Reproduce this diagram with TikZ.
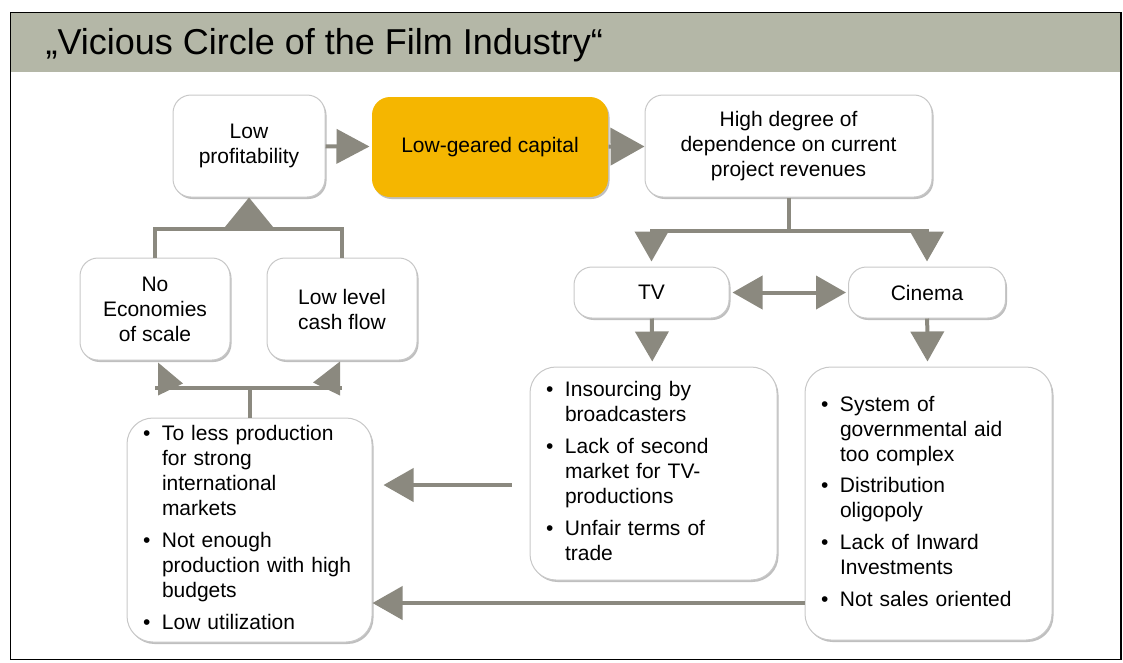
\documentclass[tikz,border=0pt]{standalone}
\usepackage{fontspec}
\setmainfont{Liberation Sans}
\usetikzlibrary{arrows.meta,shadows}

\definecolor{barcolor}{RGB}{180,183,167}
\definecolor{capitalorange}{RGB}{245,182,0}
\definecolor{arrowgray}{RGB}{139,137,127}
\definecolor{boxline}{RGB}{200,200,200}

\newcommand{\bul}{\textbullet}

\tikzset{
    box/.style={draw=boxline, line width=1pt, fill=white, rounded corners=18pt,
        align=center, inner sep=0pt, font=\fontsize{21}{25}\selectfont,
        drop shadow={shadow xshift=1.5pt, shadow yshift=-2pt, fill=black, opacity=.25}},
    listbox/.style={box, rounded corners=26pt, align=left, inner xsep=16pt},
    link/.style={draw=arrowgray, line width=4pt},
    arr/.style={link, -{Triangle[length=30pt,width=33pt]}},
    twoarr/.style={link, {Triangle[length=30pt,width=33pt]}-{Triangle[length=30pt,width=33pt]}}
}

\begin{document}
\begin{tikzpicture}[x=1pt,y=-1pt]
    \useasboundingbox (0,0) rectangle (1123,662);
    \fill[barcolor] (11,13) rectangle (1120,72);
    \draw[line width=1.5pt] (10.5,12.5) rectangle (1121,659.5);
    \node[anchor=base west, font=\fontsize{36}{40}\selectfont] (title) at (42,54)
        {„Vicious Circle of the Film Industry“};

    % top row
    \node[box, minimum width=152pt, minimum height=102pt] (lowprof) at (249,146)
        {Low\\profitability};
    \node[box, draw=none, fill=capitalorange, minimum width=236pt, minimum height=100pt] (capital) at (490,147)
        {Low-geared capital};
    \node[box, minimum width=287pt, minimum height=102pt] (highdeg) at (788.5,146)
        {High degree of\\dependence on current\\project revenues};

    % left column
    \node[box, minimum width=150pt, minimum height=102pt] (noscale) at (155,309)
        {No\\Economies\\of scale};
    \node[box, minimum width=150pt, minimum height=102pt] (cashflow) at (342,309)
        {Low level\\cash flow};
    \node[listbox, text width=213pt, minimum height=224pt] (problems) at (249.5,530) {%
        \begin{tabular}{@{}p{19pt}@{}l@{}}
        \bul & To less production\\ & for strong\\ & international\\ & markets\\[7pt]
        \bul & Not enough\\ & production with high\\ & budgets\\[7pt]
        \bul & Low utilization
        \end{tabular}};

    % TV and cinema
    \node[box, minimum width=155pt, minimum height=51pt] (tv) at (651.5,292.5) {TV};
    \node[box, minimum width=157pt, minimum height=51pt] (cinema) at (927,292.5) {Cinema};
    \node[listbox, text width=215pt, minimum height=213pt] (tvlist) at (653.5,473.5) {%
        \begin{tabular}{@{}p{19pt}@{}l@{}}
        \bul & Insourcing by\\ & broadcasters\\[7pt]
        \bul & Lack of second\\ & market for TV-\\ & productions\\[7pt]
        \bul & Unfair terms of\\ & trade
        \end{tabular}};
    \node[listbox, text width=215pt, minimum height=273pt] (cinelist) at (928.5,503.5) {%
        \begin{tabular}{@{}p{19pt}@{}l@{}}
        \bul & System of\\ & governmental aid\\ & too complex\\[6pt]
        \bul & Distribution\\ & oligopoly\\[7pt]
        \bul & Lack of Inward\\ & Investments\\[7pt]
        \bul & Not sales oriented
        \end{tabular}};

    % arrows
    \draw[arr, -{Triangle[length=33pt,width=34pt]}, shorten >=2pt] (lowprof) -- (capital);
    \draw[arr, -{Triangle[length=34pt,width=37pt]}] (capital) -- (highdeg);
    \draw[link] (highdeg.south) -- ++(0,33) coordinate (split);
    \draw[arr, shorten >=5pt] (split) -| (tv.north);
    \draw[arr, shorten >=5pt] (split) -| (cinema.north);
    \draw[twoarr, shorten <=3pt, shorten >=2pt] (tv) -- (cinema);
    \draw[arr, shorten >=5pt] (tv) -- (tvlist);
    \draw[arr, shorten >=5pt] (cinema) -- (cinelist);
    \draw[arr, shorten <=18pt, shorten >=11pt] (tvlist.west |- 0,485) -- (problems.east |- 0,485);
    \draw[arr] (cinelist.west |- 0,603) -- (problems.east |- 0,603);

    \draw[link] (noscale.north) -- ++(0,-29) coordinate (join) -| (cashflow.north);
    \draw[arr, -{Triangle[length=30pt,width=48pt]}] (lowprof.south |- join) -- (lowprof.south);

    \draw[link] (problems.north) -- ++(0,-30) coordinate (fork);
    \draw[link] (noscale.south |- fork) -- (cashflow.south |- fork);
    \fill[arrowgray] (noscale.south) ++(3,2) -- ++(0,33) -- ++(25,-12) -- cycle;
    \fill[arrowgray] (cashflow.south) ++(-2,1) -- ++(0,34) -- ++(-27,-13) -- cycle;
\end{tikzpicture}
\end{document}
